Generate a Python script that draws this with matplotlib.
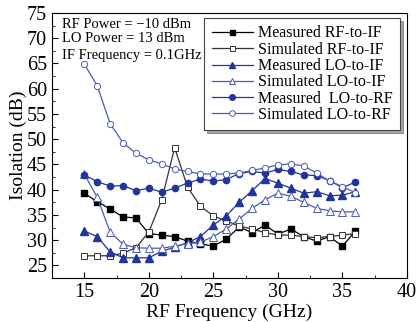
import matplotlib
matplotlib.use("Agg")
import matplotlib.pyplot as plt
from matplotlib.ticker import MultipleLocator

plt.rcParams['font.family'] = ['Liberation Serif', 'DejaVu Serif']

# RF frequency points (GHz)
freq = list(range(15, 37))

meas_rf_if = [39.3, 37.6, 36.2, 34.6, 34.4, 31.3, 31.0, 30.7, 29.8, 29.3, 28.8,
              30.2, 32.6, 31.5, 33.0, 31.2, 32.2, 30.7, 29.8, 30.7, 28.8, 31.8]
sim_rf_if = [26.9, 26.9, 26.9, 27.4, 28.5, 31.6, 38.0, 48.3, 40.5, 36.7, 34.8,
             33.8, 32.8, 32.2, 31.5, 31.0, 31.0, 30.7, 30.5, 30.7, 31.0, 31.3]
meas_lo_if = [31.8, 30.7, 27.7, 26.5, 26.5, 26.5, 27.8, 28.6, 29.5, 30.7, 33.0,
              34.8, 37.5, 39.8, 42.2, 41.3, 40.3, 39.3, 39.6, 38.8, 38.9, 39.6]
sim_lo_if = [43.1, 38.5, 31.6, 29.2, 28.5, 28.4, 28.4, 28.8, 29.3, 29.6, 30.7,
             32.2, 34.2, 36.3, 38.0, 39.3, 38.7, 37.5, 36.3, 35.8, 35.6, 35.6]
meas_lo_rf = [42.9, 41.6, 40.7, 40.8, 39.8, 40.3, 39.5, 40.3, 41.3, 42.1, 41.7,
              42.0, 43.2, 43.6, 43.3, 44.0, 43.6, 42.9, 42.8, 41.8, 40.4, 41.5]
sim_lo_rf = [64.9, 60.6, 53.1, 49.3, 47.2, 45.9, 45.1, 44.1, 43.6, 43.1, 43.1,
             43.1, 43.3, 43.8, 44.3, 44.9, 45.1, 44.7, 43.3, 41.7, 40.6, 39.4]

navy = '#23349a'
light = '#4a5bb5'

fig = plt.figure(figsize=(4.17, 3.22), dpi=100)
ax = fig.add_axes([52 / 417, 1 - 278 / 322, 355 / 417, 265 / 322])

ax.plot(freq, meas_rf_if, color='black', lw=0.9, marker='s', ms=4,
        mfc='black', mec='black', label='Measured RF-to-IF')
ax.plot(freq, sim_rf_if, color='#333333', lw=0.9, marker='s', ms=4,
        mfc='white', mec='#333333', mew=0.7, label='Simulated RF-to-IF')
ax.plot(freq, meas_lo_if, color=navy, lw=0.9, marker='^', ms=5.2,
        mfc=navy, mec=navy, label='Measured LO-to-IF')
ax.plot(freq, sim_lo_if, color=light, lw=0.9, marker='^', ms=5.5,
        mfc='white', mec=light, mew=0.7, label='Simulated LO-to-IF')
ax.plot(freq, meas_lo_rf, color=navy, lw=0.9, marker='o', ms=4.5,
        mfc=navy, mec=navy, label='Measured  LO-to-RF')
ax.plot(freq, sim_lo_rf, color=light, lw=0.9, marker='o', ms=4.5,
        mfc='white', mec=light, mew=0.7, label='Simulated LO-to-RF')

ax.set_xlim(12.5, 40)
ax.set_ylim(22.5, 75)
ax.xaxis.set_major_locator(MultipleLocator(5))
ax.xaxis.set_minor_locator(MultipleLocator(2.5))
ax.yaxis.set_major_locator(MultipleLocator(5))
ax.yaxis.set_minor_locator(MultipleLocator(2.5))
ax.tick_params(which='both', direction='in', top=False, right=False,
               labelsize=14.5)
ax.tick_params(which='major', length=4)
ax.tick_params(which='minor', length=2.5)
ax.set_xlabel('RF Frequency (GHz)', fontsize=14, labelpad=1)
ax.set_ylabel('Isolation (dB)', fontsize=14, labelpad=0)

ax.text(0.028, 0.955, 'RF Power = \u221210 dBm', transform=ax.transAxes,
        fontsize=10.5, va='center')
ax.text(0.028, 0.902, 'LO Power = 13 dBm', transform=ax.transAxes,
        fontsize=10.5, va='center')
ax.text(0.028, 0.838, 'IF Frequency = 0.1GHz', transform=ax.transAxes,
        fontsize=10.5, va='center')

leg = ax.legend(loc='upper right', bbox_to_anchor=(0.98, 0.98),
                borderaxespad=0, fontsize=11.5, fancybox=False, shadow=True,
                handlelength=2.6, labelspacing=0.02, handletextpad=0.3,
                borderpad=0.45, framealpha=1, markerscale=0.9)
leg.get_frame().set_edgecolor('#444444')
leg.get_frame().set_linewidth(0.8)

fig.savefig('out.png', dpi=100)
